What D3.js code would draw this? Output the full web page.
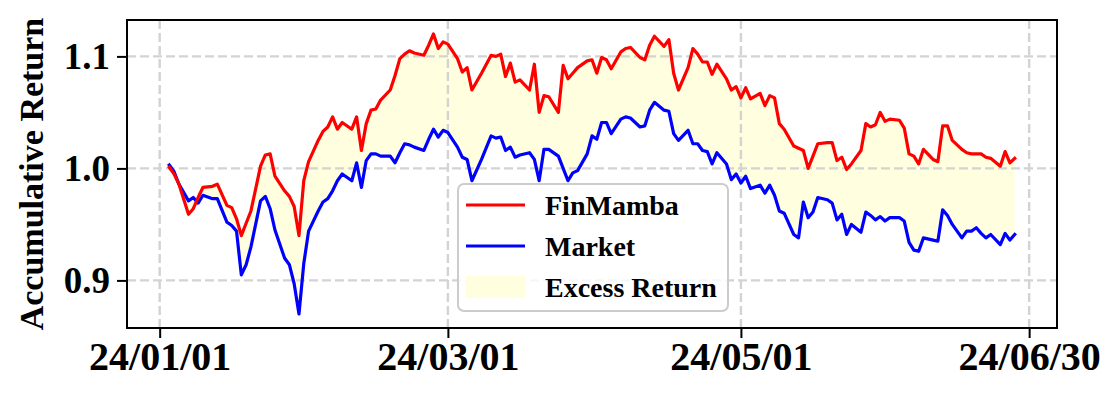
<!DOCTYPE html>
<html>
<head>
<meta charset="utf-8">
<script src="https://cdn.jsdelivr.net/npm/d3@7/dist/d3.min.js"></script>
<style>
  html, body { margin: 0; padding: 0; background: #fff; }
  svg { display: block; font-family: "Liberation Serif", "Times New Roman", serif; font-weight: bold; }
</style>
</head>
<body>
<svg id="chart" width="1120" height="398"></svg>
<script>
// Dates (2024, mm/dd) and accumulative return of both series
const dates = [
  "01/03","01/04","01/05","01/07","01/08","01/09","01/10","01/12","01/13","01/15",
  "01/16","01/17","01/18","01/19","01/20","01/22","01/23","01/24","01/25","01/27",
  "01/28","01/29","01/30","01/31","02/01","02/03","02/04","02/05","02/06","02/07",
  "02/08","02/10","02/11","02/12","02/13","02/14","02/15","02/16","02/18","02/19",
  "02/20","02/21","02/22","02/23","02/25","02/26","02/27","02/28","02/29","03/01",
  "03/03","03/04","03/05","03/06","03/08","03/10","03/11","03/12","03/13","03/14",
  "03/15","03/16","03/18","03/19","03/20","03/21","03/22","03/24","03/25","03/26",
  "03/27","03/28","03/30","03/31","04/01","04/02","04/03","04/04","04/06","04/07",
  "04/08","04/10","04/11","04/12","04/13","04/15","04/16","04/17","04/18","04/20",
  "04/21","04/22","04/23","04/24","04/25","04/26","04/28","04/29","04/30","05/01",
  "05/02","05/03","05/05","05/06","05/07","05/08","05/09","05/10","05/12","05/13",
  "05/14","05/15","05/16","05/17","05/19","05/20","05/21","05/22","05/23","05/24",
  "05/26","05/27","05/28","05/29","05/30","05/31","06/01","06/03","06/04","06/05",
  "06/06","06/07","06/08","06/10","06/11","06/12","06/13","06/14","06/16","06/17",
  "06/18","06/19","06/20","06/21","06/22","06/24","06/25","06/26","06/27"
];

const finMamba = [
  1.001,0.995,0.986,0.959,0.964,0.974,0.983,0.984,0.986,0.967,
  0.965,0.955,0.940,0.951,0.962,1.002,1.012,1.013,0.993,0.980,
  0.975,0.966,0.940,0.989,1.006,1.025,1.033,1.037,1.046,1.035,
  1.041,1.035,1.046,1.016,1.040,1.052,1.053,1.061,1.070,1.083,
  1.098,1.102,1.105,1.103,1.101,1.110,1.120,1.107,1.113,1.111,
  1.098,1.086,1.090,1.070,1.085,1.101,1.100,1.102,1.082,1.094,
  1.077,1.079,1.070,1.093,1.050,1.065,1.064,1.050,1.092,1.080,
  1.085,1.090,1.096,1.097,1.085,1.099,1.097,1.089,1.104,1.107,
  1.108,1.099,1.097,1.110,1.118,1.109,1.115,1.085,1.070,1.090,
  1.107,1.102,1.095,1.095,1.084,1.093,1.080,1.070,1.073,1.063,
  1.072,1.062,1.067,1.056,1.065,1.063,1.040,1.035,1.020,1.018,
  1.016,1.000,1.011,1.022,1.023,1.023,1.007,1.010,0.999,1.004,
  1.016,1.040,1.037,1.039,1.050,1.042,1.044,1.043,1.036,1.013,
  1.011,1.004,1.017,1.008,1.006,1.038,1.038,1.025,1.017,1.014,
  1.013,1.013,1.013,1.010,1.009,1.002,1.015,1.005,1.009
];

const market = [
  1.003,0.997,0.986,0.971,0.974,0.969,0.976,0.973,0.973,0.952,
  0.949,0.944,0.905,0.914,0.930,0.971,0.975,0.964,0.945,0.920,
  0.914,0.897,0.870,0.915,0.944,0.962,0.970,0.973,0.980,0.989,
  0.995,0.989,1.005,0.983,1.007,1.013,1.013,1.011,1.011,1.005,
  1.014,1.022,1.021,1.019,1.016,1.026,1.035,1.028,1.034,1.032,
  1.019,1.010,1.008,0.989,1.008,1.029,1.027,1.028,1.016,1.019,
  1.010,1.012,1.014,1.008,0.989,1.017,1.017,1.011,1.000,0.989,
  0.996,0.998,1.013,1.029,1.026,1.041,1.041,1.031,1.044,1.046,
  1.045,1.037,1.038,1.052,1.059,1.052,1.051,1.031,1.025,1.034,
  1.022,1.022,1.016,1.015,1.004,1.014,1.004,0.990,0.995,0.987,
  0.993,0.982,0.985,0.978,0.985,0.976,0.962,0.960,0.941,0.938,
  0.970,0.956,0.961,0.974,0.972,0.969,0.954,0.959,0.941,0.950,
  0.943,0.961,0.958,0.954,0.957,0.953,0.956,0.956,0.953,0.934,
  0.927,0.926,0.938,0.936,0.935,0.963,0.958,0.950,0.938,0.944,
  0.944,0.947,0.942,0.938,0.941,0.932,0.942,0.936,0.941
];

const yTicks = [0.9, 1.0, 1.1];
const xTickLabels = ["24/01/01", "24/03/01", "24/05/01", "24/06/30"];

const seriesNames = ["FinMamba", "Market", "Excess Return"];
const colours = { "FinMamba": "#ff0000", "Market": "#0000ff", "Excess Return": "#ffffe0" };

const margin = { top: 20, right: 63, bottom: 70, left: 127 };
const width = 1120 - margin.left - margin.right;
const height = 398 - margin.top - margin.bottom;

const parseDay = d3.timeParse("%y/%m/%d");
const data = dates.map((d, i) => ({ date: parseDay("24/" + d), fin: finMamba[i], mkt: market[i] }));

const svg = d3.select("#chart");
const g = svg.append("g").attr("transform", `translate(${margin.left},${margin.top})`);

// matplotlib style 5% padding around the data
const xExt = d3.extent(data, d => d.date);
const xPad = (xExt[1] - xExt[0]) * 0.05;
const xScale = d3.scaleTime()
    .domain([new Date(+xExt[0] - xPad), new Date(+xExt[1] + xPad)])
    .range([0, width]);

const yMin = d3.min(data, d => Math.min(d.fin, d.mkt));
const yMax = d3.max(data, d => Math.max(d.fin, d.mkt));
const yPad = (yMax - yMin) * 0.05;
const yScale = d3.scaleLinear()
    .domain([yMin - yPad, yMax + yPad])
    .range([height, 0]);

const xTicks = xTickLabels.map(parseDay);

// Excess return area
const area = d3.area()
    .x(d => xScale(d.date))
    .y0(d => yScale(d.mkt))
    .y1(d => yScale(d.fin));

g.append("path")
    .datum(data)
    .attr("d", area)
    .attr("fill", colours["Excess Return"]);

// Grid
const gridStyle = sel => sel.attr("stroke", "#d3d3d3").attr("stroke-width", 2.4).attr("stroke-dasharray", "9,4");

g.selectAll(".vgrid").data(xTicks).enter().append("line")
    .attr("class", "vgrid")
    .attr("x1", d => xScale(d)).attr("x2", d => xScale(d))
    .attr("y1", 0).attr("y2", height)
    .call(gridStyle);

g.selectAll(".hgrid").data(yTicks).enter().append("line")
    .attr("class", "hgrid")
    .attr("y1", d => yScale(d)).attr("y2", d => yScale(d))
    .attr("x1", 0).attr("x2", width)
    .call(gridStyle);

// Lines
const line = key => d3.line().x(d => xScale(d.date)).y(d => yScale(d[key]));

g.append("path").datum(data)
    .attr("d", line("mkt"))
    .attr("fill", "none").attr("stroke", colours["Market"])
    .attr("stroke-width", 3.2).attr("stroke-linejoin", "round").attr("stroke-linecap", "square");

g.append("path").datum(data)
    .attr("d", line("fin"))
    .attr("fill", "none").attr("stroke", colours["FinMamba"])
    .attr("stroke-width", 3.2).attr("stroke-linejoin", "round").attr("stroke-linecap", "square");

// Axes
const xAxis = d3.axisBottom(xScale)
    .tickValues(xTicks)
    .tickFormat(d3.timeFormat("%y/%m/%d"))
    .tickSize(10)
    .tickPadding(4);

g.append("g")
    .attr("class", "x-axis")
    .attr("transform", `translate(0,${height})`)
    .call(xAxis)
    .call(a => a.select(".domain").remove())
    .call(a => a.selectAll("line").attr("stroke", "#000").attr("stroke-width", 2))
    .call(a => a.selectAll("text").attr("fill", "#000").style("font-size", "40px").style("font-family", "Liberation Serif").style("font-weight", "bold"));

const yAxis = d3.axisLeft(yScale)
    .tickValues(yTicks)
    .tickFormat(d3.format(".1f"))
    .tickSize(10)
    .tickPadding(7);

g.append("g")
    .attr("class", "y-axis")
    .call(yAxis)
    .call(a => a.select(".domain").remove())
    .call(a => a.selectAll("line").attr("stroke", "#000").attr("stroke-width", 2))
    .call(a => a.selectAll("text").attr("fill", "#000").style("font-size", "37px").style("font-family", "Liberation Serif").style("font-weight", "bold"));

// Frame
g.append("rect")
    .attr("width", width).attr("height", height)
    .attr("fill", "none").attr("stroke", "#000").attr("stroke-width", 2);

// Y title
svg.append("text")
    .attr("transform", `translate(43,${margin.top + height / 2}) rotate(-90)`)
    .attr("text-anchor", "middle")
    .style("font-size", "34px")
    .text("Accumulative Return");

// Legend
const legend = svg.append("g").attr("transform", "translate(458,184)");

legend.append("rect")
    .attr("width", 270).attr("height", 127).attr("rx", 6)
    .attr("fill", "#fff").attr("fill-opacity", 0.8)
    .attr("stroke", "#cccccc").attr("stroke-width", 2);

seriesNames.forEach((name, i) => {
    const cy = 21 + i * 41;
    if (name === "Excess Return") {
        legend.append("rect")
            .attr("x", 8).attr("y", cy - 11).attr("width", 59).attr("height", 22)
            .attr("fill", colours[name]);
    } else {
        legend.append("line")
            .attr("x1", 8).attr("x2", 67).attr("y1", cy).attr("y2", cy)
            .attr("stroke", colours[name]).attr("stroke-width", 3);
    }
    legend.append("text")
        .attr("x", 87).attr("y", cy)
        .attr("dominant-baseline", "central")
        .style("font-size", "28px")
        .text(name);
});
</script>
</body>
</html>
